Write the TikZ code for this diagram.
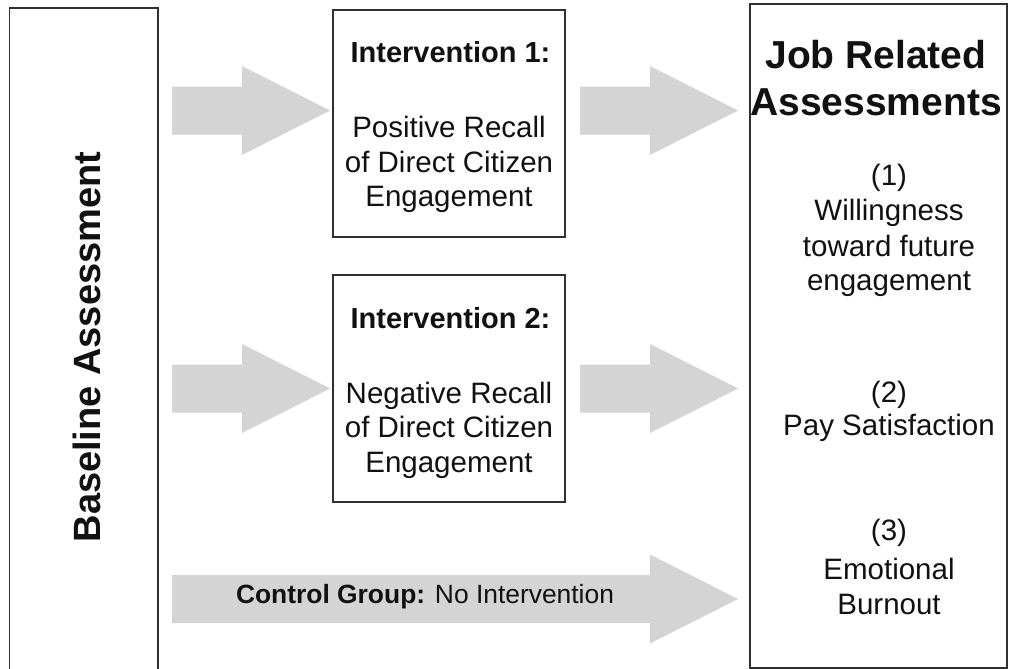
\documentclass[tikz,border=0pt]{standalone}
\usepackage{fontspec}
\setmainfont{Liberation Sans}
\usetikzlibrary{calc}

\definecolor{arrowfill}{RGB}{212,212,212}
\definecolor{frame}{RGB}{48,48,48}
\definecolor{ink}{RGB}{17,17,17}

\tikzset{
  panel/.style={draw=frame, line width=1.3pt, fill=white, rectangle,
                inner sep=0pt, outer sep=0pt, anchor=north west},
  bigtitle/.style={font=\bfseries\fontsize{39}{46}\selectfont, text=ink,
                   inner sep=0pt, anchor=base},
  sidetitle/.style={font=\bfseries\fontsize{38}{44}\selectfont, text=ink,
                    inner sep=0pt, anchor=base, rotate=90},
  boxtitle/.style={font=\bfseries\fontsize{29}{34}\selectfont, text=ink,
                   inner sep=0pt, anchor=base},
  body/.style={font=\fontsize{29.5}{34}\selectfont, text=ink,
               inner sep=0pt, anchor=base},
  arrowlabel/.style={font=\fontsize{26.4}{30}\selectfont, text=ink,
                     inner sep=0pt, anchor=base}
}

% wide grey block arrow from a start point to a tip point
\newcommand{\blockarrow}[2]{%
  \fill[arrowfill] ($(#1)+(0,-24)$) -- ($(#2)+(-88,-24)$)
    -- ($(#2)+(-88,-44.5)$) -- (#2) -- ($(#2)+(-88,44.5)$)
    -- ($(#2)+(-88,24)$) -- ($(#1)+(0,24)$) -- cycle;}

\begin{document}
\begin{tikzpicture}[x=1pt, y=-1pt]
\useasboundingbox (0,0) rectangle (1017,669);
\clip (0,0) rectangle (1017,669);
\fill[white] (0,0) rectangle (1017,669);

% arrow end points
\coordinate (a1s) at (172,110.5);
\coordinate (a1t) at (330,110.5);
\coordinate (b1s) at (580,110.5);
\coordinate (b1t) at (738,110.5);
\coordinate (a2s) at (172,388.5);
\coordinate (a2t) at (330,388.5);
\coordinate (b2s) at (580,388.5);
\coordinate (b2t) at (738,388.5);
\coordinate (cs)  at (172,599);
\coordinate (ct)  at (738,599);

\blockarrow{a1s}{a1t}
\blockarrow{b1s}{b1t}
\blockarrow{a2s}{a2t}
\blockarrow{b2s}{b2t}
\blockarrow{cs}{ct}

% boxes
\node[panel, minimum width=148.5pt, minimum height=680pt] (base) at (9.5,8) {};
\node[panel, minimum width=232pt, minimum height=227pt] (int1) at (333,10) {};
\node[panel, minimum width=232pt, minimum height=227pt] (int2) at (333,275) {};
\node[panel, minimum width=257pt, minimum height=664pt] (jobs) at (750,4) {};

% baseline column
\node[sidetitle] (basetxt) at (100,347) {Baseline Assessment};

% intervention 1
\node[boxtitle] (i1t) at (450.5,63) {Intervention 1:};
\node[body] (i1a) at (449,137) {Positive Recall};
\node[body] (i1b) at (449,172) {of Direct Citizen};
\node[body] (i1c) at (449,206) {Engagement};

% intervention 2
\node[boxtitle] (i2t) at (450.5,328) {Intervention 2:};
\node[body] (i2a) at (449,403) {Negative Recall};
\node[body] (i2b) at (449,437) {of Direct Citizen};
\node[body] (i2c) at (449,472) {Engagement};

% outcome column
\node[bigtitle] (jt1) at (876,68) {Job Related};
\node[bigtitle] (jt2) at (876,115) {Assessments};
\node[body] (o1n) at (889,185) {(1)};
\node[body] (o1a) at (889,220) {Willingness};
\node[body] (o1b) at (889,256) {toward future};
\node[body] (o1c) at (889,290) {engagement};
\node[body] (o2n) at (889,402) {(2)};
\node[body] (o2a) at (889,435) {Pay Satisfaction};
\node[body] (o3n) at (889,540) {(3)};
\node[body] (o3a) at (889,579) {Emotional};
\node[body] (o3b) at (889,614) {Burnout};

% control group label on the long arrow
\node[arrowlabel] (ctl) at (425,603) {\textbf{Control Group:} No Intervention};
\end{tikzpicture}
\end{document}
